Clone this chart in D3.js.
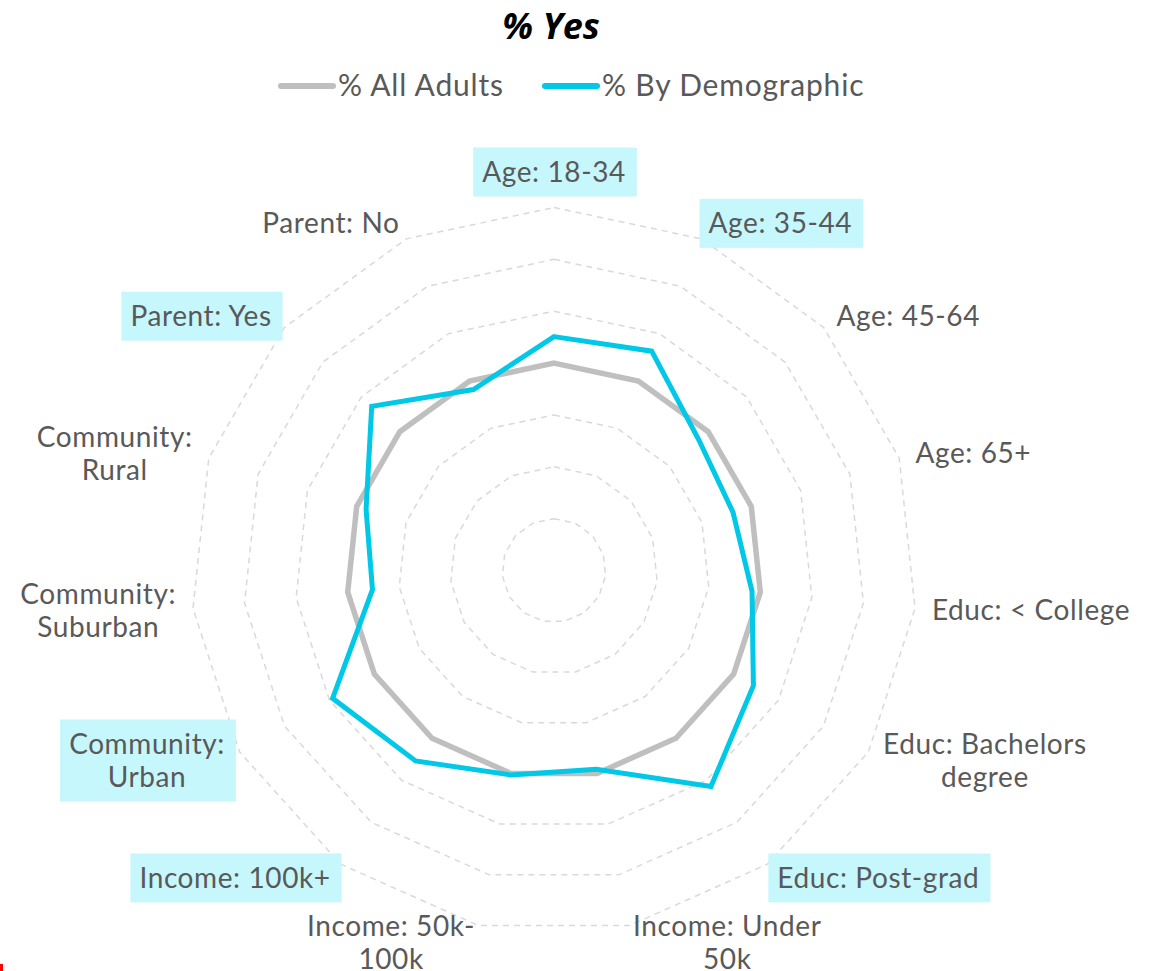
<!DOCTYPE html>
<html>
<head>
<meta charset="utf-8">
<script src="https://cdn.jsdelivr.net/npm/d3@7"></script>
<style>
  body { margin: 0; background: #fff; }
  svg { display: block; font-family: Lato, "Noto Sans", sans-serif; }
</style>
</head>
<body>
<svg id="chart"></svg>
<script>
const width = 1160;
const height = 971;

// axes, clockwise from the top ("\n" = line break in the label)
const categories = [
  "Age: 18-34", "Age: 35-44", "Age: 45-64", "Age: 65+",
  "Educ: < College", "Educ: Bachelors\ndegree", "Educ: Post-grad",
  "Income: Under\n50k", "Income: 50k-\n100k", "Income: 100k+",
  "Community:\nUrban", "Community:\nSuburban", "Community:\nRural",
  "Parent: Yes", "Parent: No"
];
const allAdults = [40, 40, 40, 40, 40, 40, 40, 40, 40, 40, 40, 40, 40, 40, 40];
const byDemographic = [45.1, 46.3, 37.6, 36.3, 38.4, 44.4, 51.5, 39.2, 40.3, 45.4, 49.3, 35.2, 38.1, 47.3, 38.2];
const highlighted = ["Age: 18-34", "Age: 35-44", "Educ: Post-grad", "Income: 100k+", "Community:\nUrban", "Parent: Yes"];
const ringTicks = [10, 20, 30, 40, 50, 60, 70];
const seriesNames = ["% All Adults", "% By Demographic"];

const cx = 554, cy = 570.5, outerR = 363;
const grey = "#bfbfbf", cyan = "#00c8e6", labelColor = "#595959";

const svg = d3.select("#chart").attr("width", width).attr("height", height);

const r = d3.scaleLinear().domain([0, 70]).range([0, outerR]);
const angle = d3.scalePoint().domain(d3.range(categories.length + 1)).range([0, 2 * Math.PI]);

const g = svg.append("g").attr("transform", "translate(" + cx + "," + cy + ")");

// dashed polygon rings
const ring = d3.lineRadial()
  .angle((d, i) => angle(i))
  .radius(d => r(d))
  .curve(d3.curveLinearClosed);

g.selectAll(".ring")
  .data(ringTicks)
  .enter().append("path")
  .attr("class", "ring")
  .attr("d", t => ring(categories.map(() => t)))
  .attr("fill", "none")
  .attr("stroke", "#d9d9d9")
  .attr("stroke-width", 1.5)
  .attr("stroke-dasharray", "6,5");

// series
const series = [
  {name: seriesNames[0], values: allAdults, color: grey, w: 5.5},
  {name: seriesNames[1], values: byDemographic, color: cyan, w: 5}
];

g.selectAll(".series")
  .data(series)
  .enter().append("path")
  .attr("class", "series")
  .attr("d", s => ring(s.values))
  .attr("fill", "none")
  .attr("stroke", s => s.color)
  .attr("stroke-width", s => s.w)
  .attr("stroke-linejoin", "miter");

// axis labels
const labelR = outerR + 17;
const lineH = 33;
const fontSize = 28;

categories.forEach(function(name, i) {
  const a = angle(i);
  const ax = labelR * Math.sin(a);
  const ay = -labelR * Math.cos(a);
  const lines = name.split("\n");

  const lg = g.append("g").attr("class", "axis-label");
  const text = lg.append("text")
    .attr("font-size", fontSize)
    .attr("letter-spacing", 0.6)
    .attr("fill", labelColor)
    .attr("text-anchor", "middle");
  const tspans = text.selectAll("tspan")
    .data(lines)
    .enter().append("tspan")
    .text(d => d);

  let blockW = 0;
  tspans.each(function() { blockW = Math.max(blockW, this.getComputedTextLength()); });

  let midX;
  if (Math.abs(Math.sin(a)) < 0.01) midX = ax;
  else if (Math.sin(a) > 0) midX = ax + blockW / 2;
  else midX = ax - blockW / 2;

  const blockH = lines.length * lineH;
  let midY = ay;
  if (Math.abs(a) < 0.01) midY = ay - blockH / 2 - 2;

  tspans
    .attr("x", midX)
    .attr("y", (d, k) => midY - blockH / 2 + lineH / 2 + k * lineH + 10);

  if (highlighted.indexOf(name) >= 0) {
    lg.insert("rect", "text")
      .attr("x", midX - blockW / 2 - 9)
      .attr("y", midY - blockH / 2 - 8)
      .attr("width", blockW + 20)
      .attr("height", blockH + 16)
      .attr("fill", "#c6f7fd");
  }
});

// title
svg.append("text")
  .attr("x", 551)
  .attr("y", 39)
  .attr("text-anchor", "middle")
  .attr("font-family", "'Open Sans', Lato, sans-serif")
  .attr("font-size", 36)
  .attr("font-weight", "bold")
  .attr("font-style", "italic")
  .attr("fill", "#000")
  .text("% Yes");

// legend
const legendX = [279, 543];
const legend = svg.append("g").attr("class", "legend");
const item = legend.selectAll("g")
  .data(series)
  .enter().append("g")
  .attr("transform", (d, i) => "translate(" + legendX[i] + ",86)");

item.append("line")
  .attr("x1", 2).attr("x2", 54)
  .attr("y1", 0).attr("y2", 0)
  .attr("stroke", d => d.color)
  .attr("stroke-width", 6)
  .attr("stroke-linecap", "round");

item.append("text")
  .attr("x", 59)
  .attr("y", 10)
  .attr("font-size", 30)
  .attr("letter-spacing", 0.8)
  .attr("fill", labelColor)
  .text(d => d.name);

// small red mark at the bottom-left corner
svg.append("rect").attr("x", 0).attr("y", 964).attr("width", 3).attr("height", 7).attr("fill", "#ff0000");
</script>
</body>
</html>
